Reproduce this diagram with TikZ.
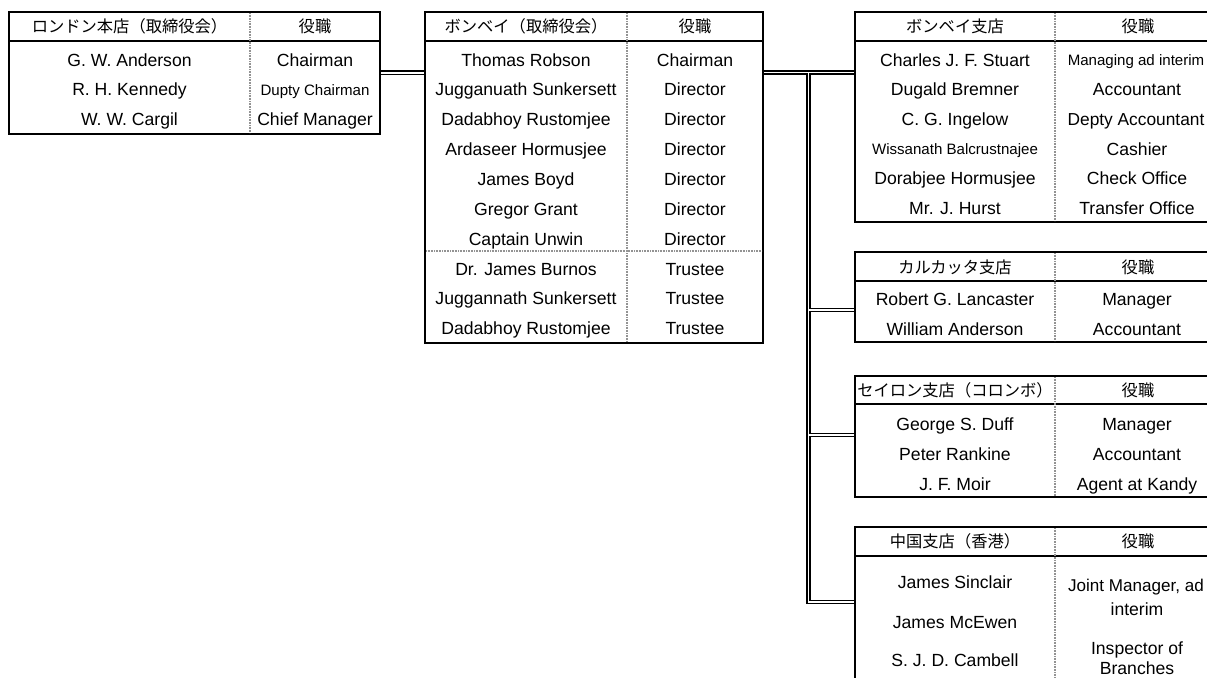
\documentclass[tikz,border=0pt]{standalone}
\usepackage{fontspec}
\setmainfont{Liberation Sans}
\newfontfamily\jp{Noto Sans CJK JP}
\begin{document}
\begin{tikzpicture}[x=0.75pt,y=-0.75pt,
  frame/.style={draw=black,line width=1.7pt,inner sep=0pt,outer sep=0pt},
  hdr/.style={line width=1.5pt},
  coldiv/.style={line width=1.6pt,draw=gray!85,dash pattern=on 0.6pt off 0.6pt},
  txt/.style={anchor=base,yshift=-4.6pt,inner sep=0pt,font=\fontsize{13.2}{15}\selectfont},
  sml/.style={anchor=base,yshift=-4.2pt,inner sep=0pt,font=\fontsize{11.3}{13}\selectfont},
  jtxt/.style={anchor=base,yshift=-4.5pt,inner sep=0pt,font=\jp\fontsize{12.2}{14}\selectfont},
  dblout/.style={line width=3.6pt,draw=black},
  dblin/.style={line width=1.3pt,draw=white}]
\useasboundingbox (0,0) rectangle (1207,678);
\clip (0,0) rectangle (1207,678);

% table frames
\node[frame,minimum width=371*0.75pt,minimum height=122*0.75pt] (lon) at (194.5,73) {};
\node[frame,minimum width=338*0.75pt,minimum height=331*0.75pt] (bbd) at (594,177.5) {};
\node[frame,minimum width=370*0.75pt,minimum height=210*0.75pt] (bbr) at (1040,117) {};
\node[frame,minimum width=370*0.75pt,minimum height=90*0.75pt] (cal) at (1040,297) {};
\node[frame,minimum width=370*0.75pt,minimum height=121*0.75pt] (cey) at (1040,436.5) {};
\node[frame,minimum width=370*0.75pt,minimum height=193*0.75pt] (chn) at (1040,623.5) {};

% connector points
\coordinate (j1) at (400,72.8);
\coordinate (tr) at (808.5,72.5);
\coordinate (b1) at (808.5,310);
\coordinate (b2) at (808.5,435);
\coordinate (b3) at (808.5,602);

% double connectors: outer black then inner white
\foreach \s in {dblout,dblin}{
  \draw[\s] (lon.east |- j1) -- (bbd.west |- j1);
  \draw[\s] (bbd.east |- tr) -- (bbr.west |- tr);
  \draw[\s] (tr) -- (b3) -- (chn.west |- b3);
  \draw[\s] (b1) -- (cal.west |- b1);
  \draw[\s] (b2) -- (cey.west |- b2);
}
% redraw frame borders over connector ends
\foreach \n in {lon,bbd,bbr,cal,cey,chn}{
  \draw[line width=1.7pt] (\n.north west) rectangle (\n.south east);
}

% header separators and column dividers
\draw[hdr] (9,41) -- (380,41);
\draw[hdr] (425,41) -- (763,41);
\draw[hdr] (855,41) -- (1225,41);
\draw[hdr] (855,281) -- (1225,281);
\draw[hdr] (855,404) -- (1225,404);
\draw[hdr] (855,556) -- (1225,556);
\draw[coldiv] (250,13) -- (250,133);
\draw[coldiv] (627,13) -- (627,342);
\draw[coldiv] (426,251) -- (762,251);
\draw[coldiv] (1055,13) -- (1055,221);
\draw[coldiv] (1055,253) -- (1055,341);
\draw[coldiv] (1055,377) -- (1055,496);
\draw[coldiv] (1055,528) -- (1055,700);

% London
\node[jtxt] (lonh1) at (129.5,26) {ロンドン本店（取締役会）};
\node[jtxt] (lonh2) at (315,26) {役職};
\node[txt] (lon1a) at (129.5,60) {G. W. Anderson};
\node[txt] (lon1b) at (315,60) {Chairman};
\node[txt] (lon2a) at (129.5,89.5) {R. H. Kennedy};
\node[sml] (lon2b) at (315,89.5) {Dupty Chairman};
\node[txt] (lon3a) at (129.5,119) {W. W. Cargil};
\node[txt] (lon3b) at (315,119) {Chief Manager};

% Bombay board
\node[jtxt] (bbdh1) at (526,26) {ボンベイ（取締役会）};
\node[jtxt] (bbdh2) at (695,26) {役職};
\foreach \nm/\rl [count=\i] in {Thomas Robson/Chairman,Jugganuath Sunkersett/Director,Dadabhoy Rustomjee/Director,Ardaseer Hormusjee/Director,James Boyd/Director,Gregor Grant/Director,Captain Unwin/Director,Dr. James Burnos/Trustee,Juggannath Sunkersett/Trustee,Dadabhoy Rustomjee/Trustee}{
  \node[txt] (bbd\i a) at (526,{60+29.85*(\i-1)}) {\nm};
  \node[txt] (bbd\i b) at (695,{60+29.85*(\i-1)}) {\rl};
}

% Bombay branch
\node[jtxt] (bbrh1) at (955,26) {ボンベイ支店};
\node[jtxt] (bbrh2) at (1138,26) {役職};
\node[txt] (bbr1a) at (955,60) {Charles J. F. Stuart};
\node[sml] (bbr1b) at (1136,60) {Managing ad interim};
\node[txt] (bbr2a) at (955,89.7) {Dugald Bremner};
\node[txt] (bbr2b) at (1137,89.7) {Accountant};
\node[txt] (bbr3a) at (955,119.4) {C. G. Ingelow};
\node[txt,font=\fontsize{13}{15}\selectfont] (bbr3b) at (1136,119.4) {Depty Accountant};
\node[sml] (bbr4a) at (955,149.1) {Wissanath Balcrustnajee};
\node[txt] (bbr4b) at (1137,149.1) {Cashier};
\node[txt] (bbr5a) at (955,178.8) {Dorabjee Hormusjee};
\node[txt] (bbr5b) at (1137,178.8) {Check Office};
\node[txt] (bbr6a) at (955,208.5) {Mr. J. Hurst};
\node[txt] (bbr6b) at (1137,208.5) {Transfer Office};

% Calcutta
\node[jtxt] (calh1) at (955,267) {カルカッタ支店};
\node[jtxt] (calh2) at (1138,267) {役職};
\node[txt] (cal1a) at (955,299) {Robert G. Lancaster};
\node[txt] (cal1b) at (1137,299) {Manager};
\node[txt] (cal2a) at (955,329) {William Anderson};
\node[txt] (cal2b) at (1137,329) {Accountant};

% Ceylon
\node[jtxt] (ceyh1) at (955,390.5) {セイロン支店（コロンボ）};
\node[jtxt] (ceyh2) at (1138,390.5) {役職};
\node[txt] (cey1a) at (955,424) {George S. Duff};
\node[txt] (cey1b) at (1137,424) {Manager};
\node[txt] (cey2a) at (955,454) {Peter Rankine};
\node[txt] (cey2b) at (1137,454) {Accountant};
\node[txt] (cey3a) at (955,484) {J. F. Moir};
\node[txt] (cey3b) at (1137,484) {Agent at Kandy};

% China
\node[jtxt] (chnh1) at (955,541.5) {中国支店（香港）};
\node[jtxt] (chnh2) at (1138,541.5) {役職};
\node[txt] (chn1a) at (955,582) {James Sinclair};
\node[txt] (chn2a) at (955,622) {James McEwen};
\node[txt] (chn3a) at (955,660) {S. J. D. Cambell};
\node[txt,font=\fontsize{12.8}{15}\selectfont] (chn1b) at (1136,585) {Joint Manager, ad};
\node[txt] (chn1c) at (1137,609) {interim};
\node[txt] (chn2b) at (1137,648) {Inspector of};
\node[txt] (chn2c) at (1137,668) {Branches};
\end{tikzpicture}
\end{document}
